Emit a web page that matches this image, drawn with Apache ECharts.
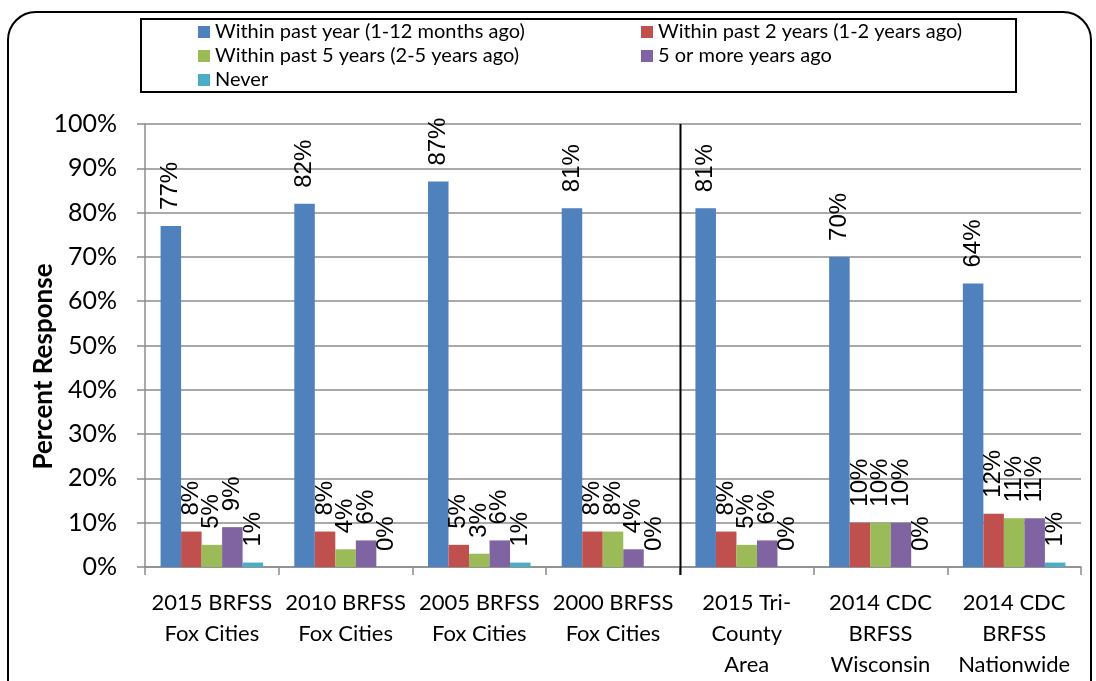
<!DOCTYPE html>
<html>
<head>
<meta charset="utf-8">
<script src="https://cdn.jsdelivr.net/npm/echarts@6/dist/echarts.min.js"></script>
<style>
  html, body { margin: 0; padding: 0; background: #ffffff; }
  #chart { width: 1096px; height: 681px; }
</style>
</head>
<body>
<div id="chart"></div>
<script>
// Survey groups along the x axis
const categories = [
  '2015 BRFSS\nFox Cities',
  '2010 BRFSS\nFox Cities',
  '2005 BRFSS\nFox Cities',
  '2000 BRFSS\nFox Cities',
  '2015 Tri-\nCounty\nArea',
  '2014 CDC\nBRFSS\nWisconsin',
  '2014 CDC\nBRFSS\nNationwide'
];

// Percent of respondents for each time-since-last-visit answer
const pastYear    = [77, 82, 87, 81, 81, 70, 64];
const past2Years  = [8, 8, 5, 8, 8, 10, 12];
const past5Years  = [5, 4, 3, 8, 5, 10, 11];
const fivePlus    = [9, 6, 6, 4, 6, 10, 11];
const never       = [1, 0, 1, 0, 0, 0, 1];

const seriesNames = [
  'Within past year (1-12 months ago)',
  'Within past 2 years (1-2 years ago)',
  'Within past 5 years (2-5 years ago)',
  '5 or more years ago',
  'Never'
];
const seriesData = [pastYear, past2Years, past5Years, fivePlus, never];
const colors = ['#4F81BD', '#C0504D', '#9BBB59', '#8064A2', '#4BACC6'];

const yTicks = [0, 10, 20, 30, 40, 50, 60, 70, 80, 90, 100];

const chart = echarts.init(document.getElementById('chart'), null, { renderer: 'canvas' });

const gridColor = '#8c8c8c';
const uiFont = 'Lato';

function legendAt(idx, left, top) {
  return {
    data: [seriesNames[idx]],
    left: left,
    top: top,
    itemWidth: 12,
    itemHeight: 12,
    icon: 'rect',
    padding: 0,
    selectedMode: false,
    textStyle: { fontFamily: uiFont, fontSize: 20, color: '#000', lineHeight: 22 }
  };
}

const option = {
  backgroundColor: '#ffffff',
  animation: false,
  color: colors,
  grid: { left: 145, right: 15, top: 124, bottom: 114, containLabel: false },
  legend: [
    legendAt(0, 198, 21),
    legendAt(2, 198, 45),
    legendAt(4, 198, 69),
    legendAt(1, 641, 21),
    legendAt(3, 641, 45)
  ],
  xAxis: {
    type: 'category',
    data: categories,
    axisLine: { show: true, lineStyle: { color: gridColor, width: 1.5 } },
    axisTick: { show: true, length: 8, lineStyle: { color: gridColor, width: 1.5 } },
    axisLabel: {
      interval: 0,
      margin: 20,
      color: '#000',
      fontFamily: uiFont,
      fontSize: 22,
      lineHeight: 31
    },
    splitLine: { show: false }
  },
  yAxis: {
    type: 'value',
    min: 0,
    max: 100,
    interval: 10,
    name: 'Percent Response',
    nameLocation: 'middle',
    nameGap: 88,
    nameMoveOverlap: false,
    nameTextStyle: {
      fontFamily: uiFont,
      fontSize: 26,
      fontWeight: 'bold',
      color: '#000',
      padding: [0, 42, 0, 0]
    },
    axisLine: { show: true, lineStyle: { color: gridColor, width: 1.5 } },
    axisTick: { show: true, inside: false, length: 8, lineStyle: { color: gridColor, width: 1.5 } },
    axisLabel: {
      margin: 28,
      color: '#000',
      fontFamily: uiFont,
      fontSize: 25,
      formatter: function (v) { return yTicks.indexOf(v) >= 0 ? v + '%' : ''; }
    },
    splitLine: { show: true, lineStyle: { color: gridColor, width: 1.5 } }
  },
  series: seriesNames.map(function (name, i) {
    return {
      name: name,
      type: 'bar',
      data: seriesData[i],
      barGap: '0%',
      barCategoryGap: '23.3%',
      itemStyle: { color: colors[i] },
      label: {
        show: true,
        position: 'top',
        rotate: 90,
        align: 'left',
        verticalAlign: 'middle',
        distance: 16,
        color: '#000',
        fontFamily: 'Liberation Sans',
        fontSize: 24,
        formatter: '{c}%'
      }
    };
  })
};

chart.setOption(option);

// Frame, legend box and the divider between the Fox Cities history and the comparison groups
function drawDecorations() {
  const p3 = chart.convertToPixel({ xAxisIndex: 0 }, categories[3]);
  const p4 = chart.convertToPixel({ xAxisIndex: 0 }, categories[4]);
  const xDiv = Math.round((p3 + p4) / 2) + 0.5;
  const yTop = chart.convertToPixel({ yAxisIndex: 0 }, 100);
  const yBottom = chart.convertToPixel({ yAxisIndex: 0 }, 0);
  chart.setOption({
    graphic: [
      {
        type: 'rect',
        silent: true,
        shape: { x: 8, y: 12, width: 1083, height: 720, r: 28 },
        style: { fill: null, stroke: '#000', lineWidth: 2 },
        z: 0
      },
      {
        type: 'rect',
        silent: true,
        shape: { x: 141, y: 19, width: 875, height: 73 },
        style: { fill: null, stroke: '#000', lineWidth: 2 },
        z: 0
      },
      {
        type: 'line',
        silent: true,
        shape: { x1: xDiv, y1: yTop, x2: xDiv, y2: yBottom + 8 },
        style: { stroke: '#000', lineWidth: 2 },
        z: 10
      }
    ]
  });
}
drawDecorations();
</script>
</body>
</html>
